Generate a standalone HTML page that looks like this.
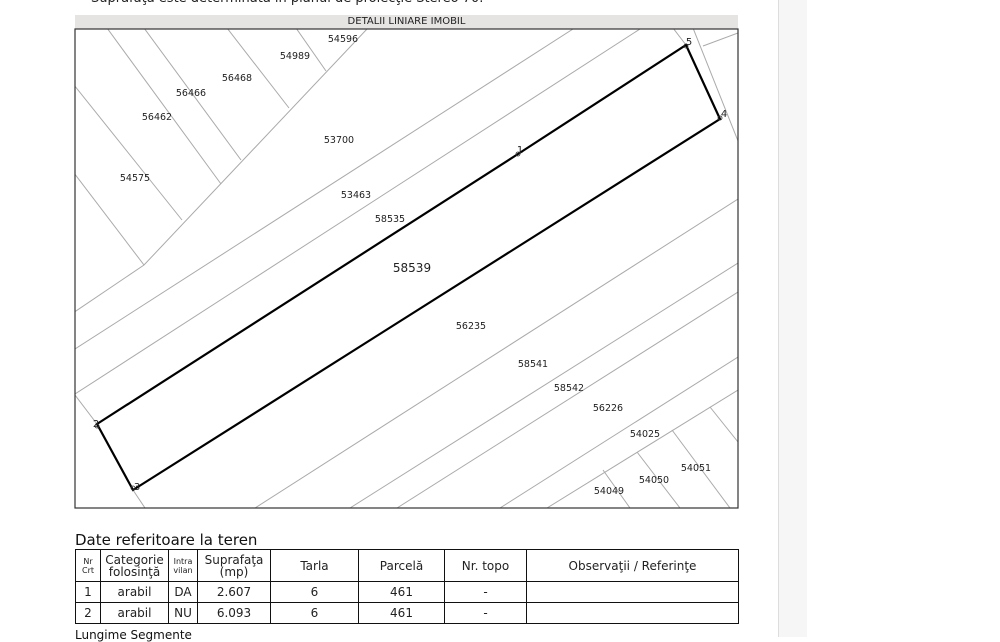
<!DOCTYPE html>
<html><head><meta charset="utf-8"><style>
body{margin:0;width:1000px;height:637px;overflow:hidden;background:#fff;position:relative;font-family:"DejaVu Sans","Liberation Sans",sans-serif;color:#111}
.top{position:absolute;left:91px;top:-9px;font-size:13px;color:#222}
.hdr{position:absolute;left:75px;top:15px;width:663px;height:14px;background:#e6e3e3;font-size:10px;text-align:center;line-height:14px;color:#222}
svg{position:absolute;left:0;top:0}
.title{position:absolute;left:75px;top:531px;font-size:15px;color:#111}
table{position:absolute;left:75px;top:549px;width:664px;border-collapse:collapse;font-size:12px;color:#222}
td{border:1px solid #111;text-align:center;padding:0;line-height:12px}
.sm{font-size:8px;line-height:9px}
.lg{position:absolute;left:75px;top:628px;font-size:12px}
.side{position:absolute;left:778px;top:0;width:28px;height:637px;background:#f6f6f6;border-left:1px solid #ddd}
</style></head><body>
<div class="top">Suprafaţa este determinată în planul de proiecţie Stereo 70.</div>
<div class="hdr">DETALII LINIARE IMOBIL</div>
<svg width="1000" height="637">
<defs><clipPath id="c"><rect x="75" y="29" width="663" height="479"/></clipPath></defs>
<g clip-path="url(#c)" stroke="#aaa" stroke-width="1" fill="none">
<polyline points="367,29 144,265 70,315"/>
<line x1="75" y1="349" x2="573" y2="29"/>
<line x1="75" y1="394" x2="640" y2="29"/>
<line x1="255" y1="508" x2="738" y2="199"/>
<line x1="350" y1="508" x2="738" y2="263"/>
<line x1="397" y1="508" x2="738" y2="292"/>
<line x1="500" y1="508" x2="738" y2="357"/>
<line x1="547" y1="508" x2="738" y2="390"/>
<line x1="603" y1="470" x2="630" y2="508"/>
<line x1="637" y1="452" x2="680" y2="508"/>
<line x1="672" y1="430" x2="730" y2="508"/>
<line x1="710" y1="407" x2="738" y2="442"/>
<line x1="107" y1="28" x2="221" y2="184"/>
<line x1="144" y1="28" x2="241" y2="160"/>
<line x1="227" y1="28" x2="289" y2="108"/>
<line x1="296" y1="28" x2="326" y2="71"/>
<line x1="74" y1="85" x2="182" y2="220"/>
<line x1="74" y1="173" x2="144" y2="265"/>
<line x1="693" y1="28" x2="738" y2="141"/>
<line x1="673" y1="28" x2="686" y2="45"/>
<line x1="703" y1="46" x2="738" y2="33"/>
<line x1="97" y1="424" x2="75" y2="395"/>
<line x1="133" y1="490" x2="145" y2="508"/>
</g>
<rect x="75" y="29" width="663" height="479" fill="none" stroke="#333" stroke-width="1.2"/>
<polygon points="97,424 518,154 686,45 720,119 133,490" fill="none" stroke="#000" stroke-width="2.2"/>
<g fill="none" stroke="#333" stroke-width="0.8">
<circle cx="97" cy="426" r="2"/><circle cx="133" cy="488" r="2"/><circle cx="518" cy="154" r="2"/><circle cx="686" cy="46" r="2"/><circle cx="720" cy="118" r="2"/>
</g>
<g font-family="DejaVu Sans,Liberation Sans,sans-serif" font-size="9.5" fill="#222" text-anchor="middle">
<text x="343" y="42">54596</text><text x="295" y="59">54989</text><text x="237" y="81">56468</text>
<text x="191" y="96">56466</text><text x="157" y="120">56462</text><text x="339" y="143">53700</text>
<text x="135" y="181">54575</text><text x="356" y="198">53463</text><text x="390" y="222">58535</text>
<text x="412" y="272" font-size="12">58539</text><text x="471" y="329">56235</text>
<text x="533" y="367">58541</text><text x="569" y="391">58542</text><text x="608" y="411">56226</text>
<text x="645" y="437">54025</text><text x="696" y="471">54051</text><text x="654" y="483">54050</text>
<text x="609" y="494">54049</text>
<text x="689" y="45" font-size="10">5</text><text x="724" y="117" font-size="10">4</text><text x="520" y="153" font-size="10">1</text>
<text x="96" y="427" font-size="10">2</text><text x="137" y="490" font-size="10">3</text>
</g>
</svg>
<div class="title">Date referitoare la teren</div>
<table>
<tr style="height:32px"><td class="sm" style="width:24px">Nr<br>Crt</td><td style="width:67px">Categorie<br>folosinţă</td><td class="sm" style="width:28px">Intra<br>vilan</td><td style="width:72px">Suprafaţa<br>(mp)</td><td style="width:87px">Tarla</td><td style="width:85px">Parcelă</td><td style="width:81px">Nr. topo</td><td>Observaţii / Referinţe</td></tr>
<tr style="height:21px"><td>1</td><td>arabil</td><td>DA</td><td>2.607</td><td>6</td><td>461</td><td>-</td><td></td></tr>
<tr style="height:21px"><td>2</td><td>arabil</td><td>NU</td><td>6.093</td><td>6</td><td>461</td><td>-</td><td></td></tr>
</table>
<div class="lg">Lungime Segmente</div>
<div class="side"></div>
</body></html>
